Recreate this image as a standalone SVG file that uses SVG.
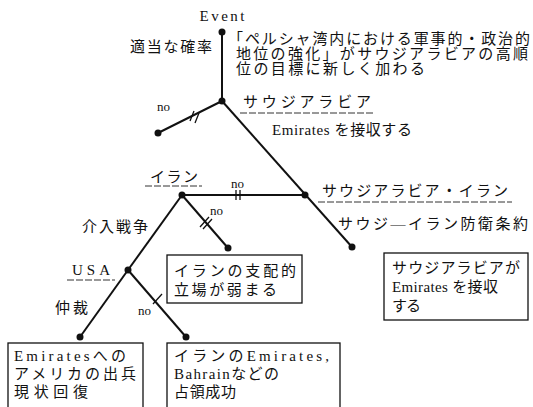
<svg xmlns="http://www.w3.org/2000/svg" width="533" height="407" viewBox="0 0 533 407">
<style>
.t{font-family:"Liberation Serif","Noto Sans CJK JP",serif;font-size:15px;fill:#111}
.e{font-family:"Liberation Serif",serif;font-size:15px;fill:#111}
.s{font-family:"Liberation Serif",serif;font-size:13px;fill:#111}
.ln{stroke:#111;stroke-width:2;fill:none}
.tk{stroke:#111;stroke-width:1.3;fill:none}
.ul{stroke:#333;stroke-width:1;stroke-dasharray:7 2;fill:none}
.bx{stroke:#111;stroke-width:1.3;fill:#fff}
.dot{fill:#111}
</style>
<rect width="533" height="407" fill="#fff"/>
<g id="connectors">
<line class="ln" x1="222" y1="32" x2="222" y2="101"/>
<line class="ln" x1="222" y1="101" x2="158" y2="133"/>
<line class="ln" x1="222" y1="101" x2="352" y2="247"/>
<line class="ln" x1="182" y1="195" x2="305" y2="195"/>
<line class="ln" x1="182" y1="195" x2="228" y2="248"/>
<line class="ln" x1="182" y1="195" x2="128" y2="270"/>
<line class="ln" x1="128" y1="270" x2="80" y2="337"/>
<line class="ln" x1="128" y1="270" x2="186" y2="337"/>
<path class="tk" d="M190 121 L194 111 M195 123 L199 113"/>
<path class="tk" d="M236 190 L236 200 M240 190 L240 200"/>
<path class="tk" d="M200 227 L209 217 M203 229 L212 219"/>
<path class="tk" d="M153 304 L162 294"/>
</g>
<g id="n-event">
<text class="e" x="222" y="21" text-anchor="middle" textLength="45" lengthAdjust="spacing">Event</text>
<circle class="dot" cx="222" cy="32" r="3.5"/>
<text class="t" x="130" y="52" textLength="82" lengthAdjust="spacing">適当な確率</text>
<text class="t" x="228" y="44" textLength="302" lengthAdjust="spacing">「ペルシャ湾内における軍事的・政治的</text>
<text class="t" x="236" y="59" textLength="292" lengthAdjust="spacing">地位の強化」がサウジアラビアの高順</text>
<text class="t" x="236" y="74" textLength="189" lengthAdjust="spacing">位の目標に新しく加わる</text>
</g>
<g id="n-saudi">
<circle class="dot" cx="222" cy="101" r="3.5"/>
<text class="t" x="243" y="107" textLength="128" lengthAdjust="spacing">サウジアラビア</text>
<line class="ul" x1="240" y1="113" x2="373" y2="113"/>
<text class="s" x="157" y="111">no</text>
<circle class="dot" cx="158" cy="133" r="3.5"/>
<text class="t" x="272" y="135" textLength="140" lengthAdjust="spacing">Emirates を接収する</text>
</g>
<g id="n-iran">
<circle class="dot" cx="182" cy="195" r="3.5"/>
<text class="t" x="150" y="182" textLength="48" lengthAdjust="spacing">イラン</text>
<line class="ul" x1="145" y1="186" x2="202" y2="186"/>
<text class="s" x="231" y="188">no</text>
<text class="s" x="210" y="215">no</text>
<circle class="dot" cx="228" cy="248" r="3.5"/>
<text class="t" x="82" y="232" textLength="66" lengthAdjust="spacing">介入戦争</text>
</g>
<g id="n-saudi-iran">
<circle class="dot" cx="305" cy="195" r="3.5"/>
<text class="t" x="322" y="196" textLength="186" lengthAdjust="spacing">サウジアラビア・イラン</text>
<line class="ul" x1="318" y1="202" x2="512" y2="202"/>
<text class="t" x="338" y="229" textLength="190" lengthAdjust="spacing">サウジ—イラン防衛条約</text>
<circle class="dot" cx="352" cy="247" r="3.5"/>
</g>
<g id="n-usa">
<circle class="dot" cx="128" cy="270" r="3.5"/>
<text class="e" x="72" y="275" textLength="38" lengthAdjust="spacing">USA</text>
<line class="ul" x1="67" y1="280" x2="115" y2="280"/>
<text class="t" x="55" y="313" textLength="33" lengthAdjust="spacing">仲裁</text>
<text class="s" x="138" y="315">no</text>
<circle class="dot" cx="80" cy="337" r="3.5"/>
<circle class="dot" cx="186" cy="337" r="3.5"/>
</g>
<g id="box-iran-weak">
<rect class="bx" x="167" y="255" width="135" height="48"/>
<text class="t" x="174" y="276" textLength="122" lengthAdjust="spacing">イランの支配的</text>
<text class="t" x="174" y="295" textLength="103" lengthAdjust="spacing">立場が弱まる</text>
</g>
<g id="box-saudi-take">
<rect class="bx" x="384" y="253" width="144" height="67"/>
<text class="t" x="392" y="273" textLength="128" lengthAdjust="spacing">サウジアラビアが</text>
<text class="t" x="392" y="292" textLength="106" lengthAdjust="spacing">Emirates を接収</text>
<text class="t" x="392" y="311" textLength="29" lengthAdjust="spacing">する</text>
</g>
<g id="box-usa">
<rect class="bx" x="8" y="343" width="135" height="80"/>
<text class="t" x="14" y="361" textLength="112" lengthAdjust="spacing">Emiratesへの</text>
<text class="t" x="14" y="379" textLength="122" lengthAdjust="spacing">アメリカの出兵</text>
<text class="t" x="14" y="397" textLength="74" lengthAdjust="spacing">現状回復</text>
</g>
<g id="box-iran-occupy">
<rect class="bx" x="167" y="343" width="173" height="80"/>
<text class="t" x="174" y="361" textLength="155" lengthAdjust="spacing">イランのEmirates,</text>
<text class="t" x="174" y="379" textLength="105" lengthAdjust="spacing">Bahrainなどの</text>
<text class="t" x="174" y="397" textLength="62" lengthAdjust="spacing">占領成功</text>
</g>
</svg>
